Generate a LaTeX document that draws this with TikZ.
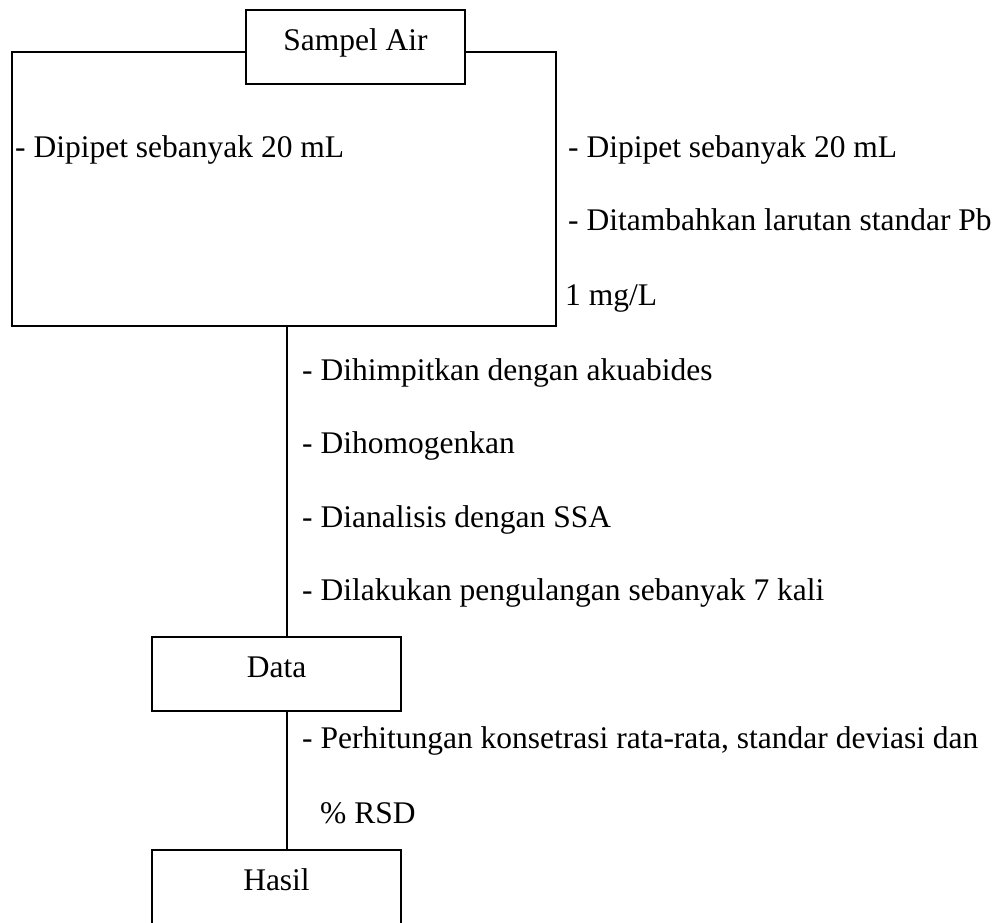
\documentclass[tikz,border=0pt]{standalone}
\usepackage{fontspec}
\setmainfont{Liberation Serif}
\begin{document}
\begin{tikzpicture}[x=1pt,y=-1pt,
  box/.style={draw, line width=1.3pt, inner sep=0pt, fill=white},
  txt/.style={anchor=base west, inner sep=0pt, font=\fontsize{31.5}{38}\selectfont},
  ctxt/.style={anchor=base, inner sep=0pt, font=\fontsize{31.5}{38}\selectfont},
  conn/.style={line width=1.3pt}]
\clip (0,0) rectangle (1001,922);
% outer frame
\node[box, fill=none, minimum width=544pt, minimum height=274pt] (frame) at (284,189) {};
% boxes
\node[box, minimum width=219pt, minimum height=74pt] (sa) at (355.5,47) {};
\node[ctxt] (salbl) at (355.5,50) {Sampel Air};
\node[box, minimum width=249pt, minimum height=74pt] (data) at (276.5,674) {};
\node[ctxt] (datalbl) at (276.5,677) {Data};
\node[box, minimum width=249pt, minimum height=74pt] (hasil) at (276.5,887) {};
\node[ctxt] (hasillbl) at (276.5,890) {Hasil};
% connectors
\coordinate (c1) at (287,326);
\coordinate (c2) at (287,711);
\draw[conn] (c1) -- (c1 |- data.north);
\draw[conn] (c2) -- (c2 |- hasil.north);
% texts
\node[txt] (t1) at (15,157) {- Dipipet sebanyak 20 mL};
\node[txt] (t2) at (568,157) {- Dipipet sebanyak 20 mL};
\node[txt] (t3) at (568,230) {- Ditambahkan larutan standar Pb};
\node[txt] (t4) at (565,305) {1 mg/L};
\node[txt] (t5) at (302,380) {- Dihimpitkan dengan akuabides};
\node[txt] (t6) at (302,453) {- Dihomogenkan};
\node[txt] (t7) at (302,527) {- Dianalisis dengan SSA};
\node[txt] (t8) at (302,600) {- Dilakukan pengulangan sebanyak 7 kali};
\node[txt] (t9) at (302,748) {- Perhitungan konsetrasi rata-rata, standar deviasi dan};
\node[txt] (t10) at (320,823) {\% RSD};
\end{tikzpicture}
\end{document}
